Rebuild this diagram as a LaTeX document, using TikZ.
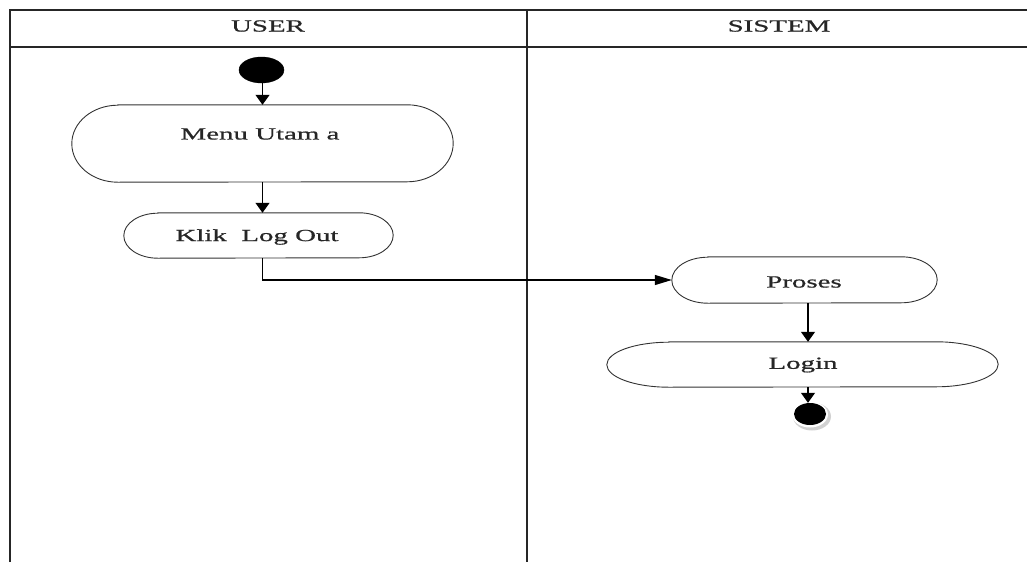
\documentclass[tikz,border=0pt]{standalone}
\usepackage{fontspec}
\setmainfont[FakeStretch=1.7, FakeBold=0.8]{Liberation Serif}
\usetikzlibrary{arrows.meta,shapes.geometric}

\tikzset{
  lane/.style={line width=1.4pt, draw=black!85},
  boxline/.style={line width=0.9pt, draw=black!80},
  frame/.style={draw=none, inner sep=0pt, rectangle},
  lbl/.style={inner sep=0pt, text=black!85, font=\fontsize{17}{20}\selectfont},
  varr/.style={line width=1.2pt, -{Triangle[length=10pt,width=14pt]}},
  harr/.style={line width=1.2pt, -{Triangle[length=17pt,width=10pt]}},
}

% stadium outline around a named frame node: #1 name, #2 cap x radius, #3 cap y radius
\newcommand\capsule[3]{%
  \draw[boxline] ([xshift=#2]#1.north west) -- ([xshift=-#2]#1.north east)
    arc[start angle=90, end angle=-90, x radius=#2, y radius=#3]
    -- ([xshift=#2]#1.south west)
    arc[start angle=270, end angle=90, x radius=#2, y radius=#3] -- cycle;}

\begin{document}
\begin{tikzpicture}[x=1pt, y=-1pt]
\useasboundingbox (0,0) rectangle (1027,562);

% swimlanes
\draw[lane] (10,562) -- (10,10) -- (1027,10);
\draw[lane] (10,47) -- (1027,47);
\draw[lane] (527,10) -- (527,562);
\node[lbl] (user) at (268,26) {USER};
\node[lbl] (sistem) at (779,26) {SISTEM};

% user lane
\node[ellipse, fill=black, draw=black, minimum width=45pt, minimum height=26pt, inner sep=0pt] (start) at (261.5,70) {};
\node[frame, minimum width=381pt, minimum height=77pt] (menu) at (262.5,143.5) {};
\capsule{menu}{46pt}{38.5pt}
\node[lbl] (menutext) at (260,134) {Menu Utam a};

\node[frame, minimum width=269pt, minimum height=45pt] (klik) at (258.5,235.5) {};
\capsule{klik}{34pt}{22.5pt}
\node[lbl] (kliktext) at (257,237) {Klik\ \ Log Out};

% system lane
\node[frame, minimum width=265pt, minimum height=46pt] (proses) at (804.5,280) {};
\capsule{proses}{36pt}{23pt}
\node[lbl] (prosestext) at (804,282) {Proses};

\node[frame, minimum width=391pt, minimum height=45pt] (login) at (802.5,364.5) {};
\capsule{login}{62pt}{22.5pt}
\node[lbl] (logintext) at (803,365) {Login};

% final state with its soft shadow
\fill[black!18] (812,416.5) ellipse[x radius=19pt, y radius=14pt];
\fill[white] (810,414.5) ellipse[x radius=18pt, y radius=13pt];
\node[ellipse, fill=black, minimum width=32pt, minimum height=22pt, inner sep=0pt] (end) at (810,414) {};

% flow
\draw[varr] (start.south -| menu.south) -- (menu.north);
\draw[varr] (menu.south) -- (menu.south |- klik.north);
\draw[harr] (menu.south |- klik.south) -- (menu.south |- proses.west) -- (proses.west);
\draw[varr] (proses.south -| 808,0) -- (login.north -| 808,0);
\draw[varr] (login.south -| 808,0) -- (end.north -| 808,0);
\end{tikzpicture}
\end{document}
